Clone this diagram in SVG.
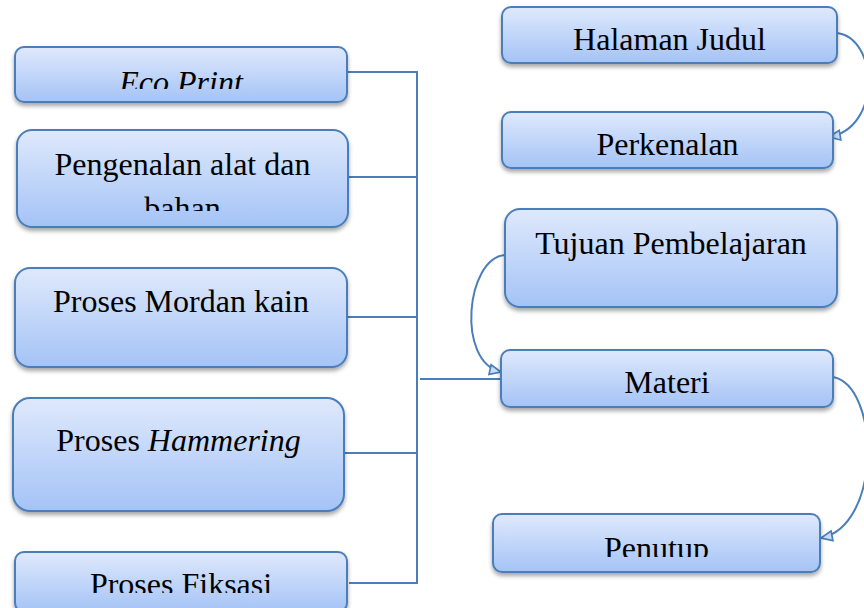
<svg xmlns="http://www.w3.org/2000/svg" width="864" height="608" viewBox="0 0 864 608">
<defs>
<linearGradient id="g" x1="0" y1="0" x2="0" y2="1">
<stop offset="0" stop-color="#dfe9fc"/>
<stop offset="1" stop-color="#a4c3f6"/>
</linearGradient>
<filter id="sh" x="-10%" y="-10%" width="120%" height="140%">
<feDropShadow dx="0" dy="3" stdDeviation="2" flood-color="#000" flood-opacity="0.35"/>
</filter>
<marker id="arr" viewBox="0 0 10 10" refX="9" refY="5" markerWidth="14" markerHeight="14" markerUnits="userSpaceOnUse" orient="auto">
<path d="M1,1.5 L9,5 L1,8.5 z" fill="#c9dcf8" stroke="#4a7ebb" stroke-width="1.2"/>
</marker>
<clipPath id="c1"><rect x="15" y="47" width="332" height="42"/></clipPath>
<clipPath id="c2"><rect x="17" y="130" width="331" height="81"/></clipPath>
<clipPath id="c5"><rect x="15" y="552" width="332" height="41"/></clipPath>
<clipPath id="c9"><rect x="493" y="514" width="327" height="43"/></clipPath>
</defs>
<style>
.box{fill:url(#g);stroke:#4a7ebb;stroke-width:2;filter:url(#sh)}
.t{font-family:"Liberation Serif","Times New Roman",serif;font-size:32px;fill:#000;text-anchor:middle}
.i{font-style:italic}
.ln{fill:none;stroke:#4a7ebb;stroke-width:2}
</style>
<g id="connectors">
<path class="ln" d="M347,72 H417 V583 H349"/>
<path class="ln" d="M348,177 H417"/>
<path class="ln" d="M348,317 H417"/>
<path class="ln" d="M345,453 H417"/>
<path class="ln" d="M420,379 H501"/>
<path class="ln" d="M837,33 C878,38 882,128 829,137" marker-end="url(#arr)"/>
<path class="ln" d="M505,255 C466,258 456,362 501,372" marker-end="url(#arr)"/>
<path class="ln" d="M833,377 C880,386 882,526 821,538" marker-end="url(#arr)"/>
</g>
<g id="n-eco">
<rect class="box" x="15" y="47" width="332" height="55" rx="9"/>
<text class="t i" x="181" y="93" clip-path="url(#c1)">Eco Print</text>
</g>
<g id="n-pengenalan">
<rect class="box" x="17" y="130" width="331" height="97" rx="15"/>
<g clip-path="url(#c2)">
<text class="t" x="182.5" y="175">Pengenalan alat dan</text>
<text class="t" x="182.5" y="219">bahan</text>
</g>
</g>
<g id="n-mordan">
<rect class="box" x="15" y="268" width="332" height="99" rx="15"/>
<text class="t" x="181" y="312">Proses Mordan kain</text>
</g>
<g id="n-hammering">
<rect class="box" x="13" y="398" width="331" height="113" rx="17"/>
<text class="t" x="178.5" y="451">Proses <tspan class="i">Hammering</tspan></text>
</g>
<g id="n-fiksasi">
<rect class="box" x="15" y="552" width="332" height="60" rx="9"/>
<text class="t" x="181" y="595" clip-path="url(#c5)">Proses Fiksasi</text>
</g>
<g id="n-halaman">
<rect class="box" x="502" y="7" width="335" height="56" rx="9"/>
<text class="t" x="669.5" y="50">Halaman Judul</text>
</g>
<g id="n-perkenalan">
<rect class="box" x="502" y="112" width="331" height="56" rx="9"/>
<text class="t" x="667.5" y="155">Perkenalan</text>
</g>
<g id="n-tujuan">
<rect class="box" x="505" y="209" width="332" height="98" rx="15"/>
<text class="t" x="671" y="254">Tujuan Pembelajaran</text>
</g>
<g id="n-materi">
<rect class="box" x="501" y="350" width="332" height="57" rx="9"/>
<text class="t" x="667" y="393">Materi</text>
</g>
<g id="n-penutup">
<rect class="box" x="493" y="514" width="327" height="58" rx="9"/>
<text class="t" x="656.5" y="559" clip-path="url(#c9)">Penutup</text>
</g>
</svg>
